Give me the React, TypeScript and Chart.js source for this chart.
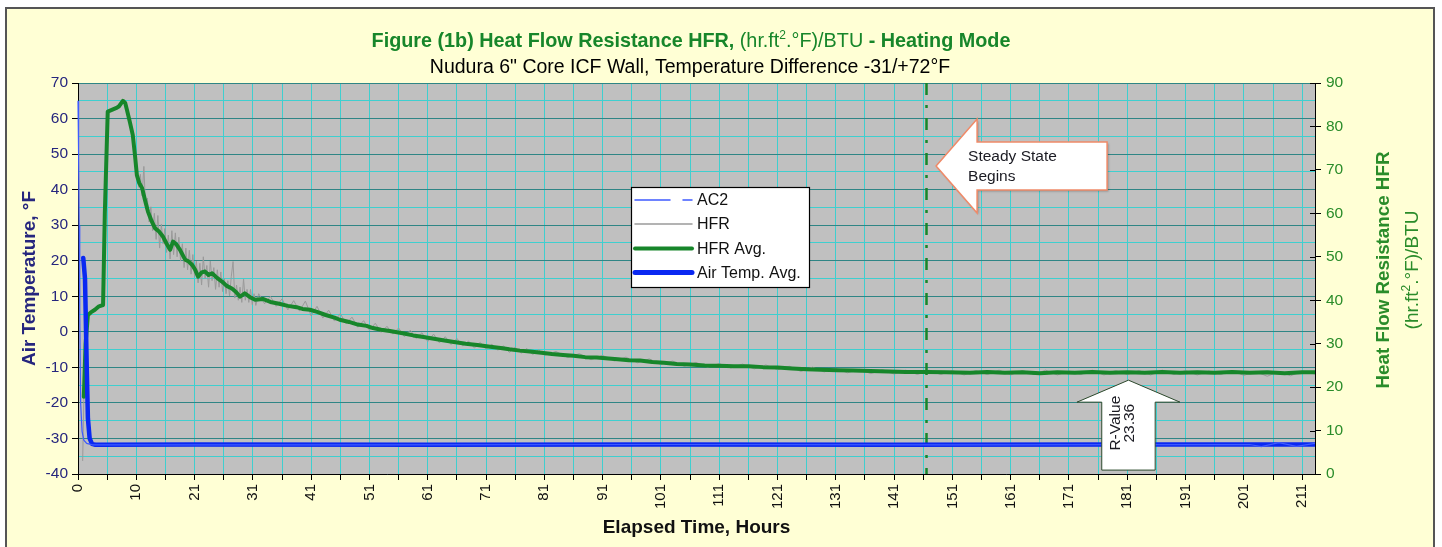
import React, { useEffect, useRef } from 'react';
import { Chart, registerables } from 'chart.js';

Chart.register(...registerables);

const FONT = "Arial, 'Liberation Sans', Helvetica, sans-serif";

// ---------- data ----------
const xTickLabels = ['0', '10', '21', '31', '41', '51', '61', '71', '81', '91', '101', '111', '121', '131', '141', '151', '161', '171', '181', '191', '201', '211'];

const ac2Hours = [0, 0.1, 0.2, 0.3, 0.45, 0.7, 1.0, 1.5, 2.5, 50, 100, 150, 201, 203, 206, 209, 212.2];
const ac2Temp = [65, 50, 30, 5, -20, -28, -30.5, -31.4, -31.8, -31.8, -31.7, -31.8, -31.7, -32.3, -31.2, -32.2, -31.4];

const airAvgHours = [0.9, 1.2, 1.5, 1.7, 2.0, 2.4, 3.0, 20, 60, 100, 140, 180, 212.2];
const airAvgTemp = [20.8, 15, -10, -24.4, -30, -31.5, -31.8, -31.7, -31.8, -31.7, -31.8, -31.7, -31.7];

const hfrHours = [
  0.8, 1.0, 1.3, 1.7, 2.2, 2.9, 3.6, 4.3, 4.6, 5.1,
  5.8, 6.5, 7.0, 7.7, 8.1, 8.4, 8.7, 9.0, 9.4, 9.8,
  10.1, 10.4, 10.7, 11.0, 11.3, 11.6, 11.9, 12.2, 12.5, 12.8,
  13.1, 13.4, 13.7, 14.0, 14.3, 14.6, 14.9, 15.2, 15.5, 15.8,
  16.1, 16.4, 16.7, 17.0, 17.3, 17.6, 17.9, 18.2, 18.5, 18.8,
  19.1, 19.4, 19.7, 20.0, 20.3, 20.6, 20.9, 21.2, 21.5, 21.8,
  22.1, 22.4, 22.7, 23.0, 23.3, 23.6, 23.9, 24.2, 24.5, 24.8,
  25.1, 25.4, 25.7, 26.0, 26.3, 26.6, 26.9, 27.2, 27.5, 27.8,
  28.1, 28.4, 28.7, 29.0, 29.3, 29.6, 29.9, 30.2, 30.5, 31,
  32, 33, 34, 35, 36, 37, 38, 39, 40, 41,
  42, 43, 44, 45, 46, 47, 48, 49, 50, 51,
  52, 53, 54, 55, 56, 57, 58, 59, 60, 61,
  62, 63, 64, 65, 66, 67, 68, 69, 70, 71,
  72, 73, 74, 75, 76, 77, 78, 79, 80, 82,
  84, 86, 88, 90, 92, 94, 96, 98, 100, 102,
  104, 106, 108, 110, 112, 114, 116, 118, 120, 122,
  124, 126, 128, 130, 132, 134, 136, 138, 140, 142,
  144, 146, 148, 150, 152, 154, 156, 158, 160, 162,
  164, 166, 168, 170, 172, 174, 176, 178, 180, 182,
  184, 186, 188, 190, 192, 194, 196, 198, 200, 202,
  204, 206, 208, 210, 212.2,
];
const hfrValues = [
  3, 17, 31, 36.2, 37.4, 37.5, 38.9, 38.6, 62, 83.0,
  84.0, 84.0, 84.9, 85.5, 85.7, 83.2, 82, 80.5, 79, 72,
  70.5, 66, 69, 64, 70.8, 61, 63.5, 58, 61.5, 56,
  60, 54, 59.5, 52, 57.5, 53, 56.5, 51, 55, 49.5,
  56, 50.5, 55.5, 50, 54.5, 49, 53, 47.5, 52, 47,
  51.5, 46, 50.5, 45.5, 49, 44, 48.5, 43.5, 50, 45,
  48, 43, 49, 44.5, 47.5, 42.5, 47, 43, 46.5, 42,
  45, 41.5, 44.5, 41, 45.5, 48.9, 40.5, 43.5, 40, 43,
  39.5, 44.9, 40, 42.5, 39.5, 42.5, 39, 41.5, 38.8, 41.5,
  39.2, 40.9, 38.6, 40.3, 37.8, 39.9, 37.5, 39.8, 36.4, 38.6,
  35.9, 37.7, 35.2, 36.9, 34.6, 36.1, 33.8, 35.3, 33.1, 34.7,
  32.6, 34.0, 32.2, 33.6, 31.6, 33.1, 31.2, 32.5, 30.5, 32.2,
  30.2, 31.6, 29.8, 31.2, 29.5, 30.6, 29.0, 30.3, 28.7, 29.9,
  28.5, 29.5, 28.0, 29.2, 27.8, 28.9, 27.5, 28.6, 27.3, 28.2,
  26.8, 27.7, 26.3, 27.3, 26.0, 26.9, 25.6, 26.5, 25.2, 26.0,
  24.8, 25.7, 24.6, 25.4, 24.4, 25.3, 24.2, 25.1, 24.0, 24.8,
  23.6, 24.6, 23.5, 24.3, 23.3, 24.1, 23.1, 24.0, 23.0, 23.9,
  22.9, 23.9, 22.9, 23.8, 22.8, 23.8, 22.9, 23.9, 22.8, 23.8,
  22.9, 23.9, 22.8, 23.7, 22.9, 23.9, 22.8, 23.8, 22.9, 23.8,
  22.8, 23.9, 22.9, 23.8, 22.8, 23.7, 22.9, 23.8, 22.7, 23.6,
  22.5, 23.6, 22.6, 23.7, 23.0,
];

const hfrAvgHours = [
  1.0, 1.3, 1.7, 2.2, 2.9, 3.6, 4.3, 4.6, 5.1, 5.8,
  6.5, 7.0, 7.7, 8.1, 8.4, 8.9, 9.4, 9.8, 10.1, 10.5,
  11.0, 11.5, 12.0, 12.6, 13.2, 13.9, 14.6, 15.2, 15.8, 16.3,
  16.9, 17.5, 18.4, 19.0, 19.6, 20.1, 20.6, 21.2, 21.8, 22.4,
  23.0, 23.8, 24.7, 25.5, 26.4, 27.1, 27.8, 28.6, 29.5, 30.4,
  31.7, 33.0, 34.5, 36.0, 37.5, 38.5, 39.8, 41.0, 42.5, 44.0,
  44.9, 46.5, 48.0, 49.5, 50.6, 52.0, 53.5, 55.7, 57.5, 59.0,
  60.8, 62.6, 64.5, 66.5, 68.5, 70.7, 72.5, 74.0, 75.8, 77.5,
  79.5, 81.3, 83.2, 85.0, 87.0, 89.0, 91.0, 92.6, 94.5, 96.4,
  98.5, 100.5, 102.7, 105.0, 107.5, 110.0, 112.5, 115.0, 117.5, 120.0,
  122.5, 125.0, 127.5, 130.2, 133.0, 136.0, 139.0, 142.0, 145.5, 149.0,
  153, 156, 159, 162, 165, 168, 171, 174, 177, 180,
  183, 186, 189, 192, 195, 198, 201, 204, 207, 210,
  212.2,
];
const hfrAvgValues = [
  17.8, 30.0, 36.6, 37.2, 37.8, 38.6, 38.9, 60.0, 83.4, 83.8,
  84.2, 84.6, 85.9, 85.4, 83.8, 81.0, 78.0, 73.0, 68.8, 67.0,
  65.8, 63.0, 60.4, 58.3, 56.6, 55.8, 54.6, 53.0, 51.6, 53.5,
  52.8, 51.6, 49.3, 48.9, 48.1, 47.0, 45.4, 46.4, 46.6, 45.8,
  46.2, 45.2, 44.3, 43.3, 42.7, 41.9, 40.8, 41.6, 40.7, 40.1,
  40.3, 39.6, 39.2, 38.7, 38.4, 38.0, 37.8, 37.3, 36.6, 36.0,
  35.5, 35.0, 34.4, 34.1, 33.6, 33.2, 32.9, 32.4, 31.9, 31.6,
  31.2, 30.8, 30.4, 30.0, 29.7, 29.3, 29.0, 28.7, 28.4, 28.2,
  27.9, 27.6, 27.4, 27.2, 26.9, 26.8, 26.6, 26.4, 26.2, 26.1,
  25.8, 25.6, 25.3, 25.2, 25.0, 24.9, 24.8, 24.8, 24.6, 24.5,
  24.3, 24.1, 24.0, 23.9, 23.8, 23.7, 23.6, 23.5, 23.5, 23.4,
  23.3, 23.5, 23.3, 23.4, 23.2, 23.4, 23.3, 23.5, 23.3, 23.4,
  23.3, 23.5, 23.3, 23.4, 23.3, 23.5, 23.3, 23.4, 23.2, 23.4,
  23.4,
];

const legendLabels = ['AC2', 'HFR', 'HFR Avg.', 'Air Temp. Avg.'];

// annotation anchors (data units: hours / right-axis HFR)
const steadyStateHour = 145.5;
const steadyArrowTip = { hour: 147.2, hfr: 70.9 };
const rValueArrowTip = { hour: 180.2, hfr: 21.6, baseHfr: 0.9 };
const rValueText = ['R-Value', '23.36'];

// ---------- styles ----------
const C = {
  page: '#ffffff',
  panel: '#FFFFD5',
  frame: '#555555',
  plot: '#C0C0C0',
  gridMajor: '#2F8585',
  gridMinor: '#3FCFCF',
  navy: '#26267E',
  green: '#17862A',
  greenText: '#2A8C2A',
  blue: '#0A28F2',
  ac2: '#3F5BFF',
  gray: '#9A9A9A',
};

const toPts = (xs: number[], ys: number[]) => xs.map((x, i) => ({ x, y: ys[i] }));

type Seg = { t: string; bold?: boolean; sup?: boolean };
function segFont(s: Seg, size: number) {
  const sz = s.sup ? Math.round(size * 0.62) : size;
  return `${s.bold ? 'bold ' : ''}${sz}px ${FONT}`;
}
function drawRich(ctx: CanvasRenderingContext2D, segs: Seg[], cx: number, cy: number, size: number, color: string) {
  ctx.textAlign = 'left';
  ctx.textBaseline = 'alphabetic';
  let w = 0;
  for (const s of segs) {
    ctx.font = segFont(s, size);
    w += ctx.measureText(s.t).width;
  }
  let x = cx - w / 2;
  const base = cy + size * 0.36;
  ctx.fillStyle = color;
  for (const s of segs) {
    ctx.font = segFont(s, size);
    ctx.fillText(s.t, x, s.sup ? base - size * 0.42 : base);
    x += ctx.measureText(s.t).width;
  }
}

const decorPlugin = {
  id: 'decor',
  beforeDraw(chart: any) {
    const { ctx, width, height, chartArea: a } = chart;
    ctx.save();
    ctx.fillStyle = C.page;
    ctx.fillRect(0, 0, width, height);
    ctx.fillStyle = C.panel;
    ctx.fillRect(6, 8, 1428, height);
    ctx.strokeStyle = C.frame;
    ctx.lineWidth = 2;
    ctx.strokeRect(6, 8, 1428, height + 20);
    ctx.fillStyle = C.plot;
    ctx.fillRect(a.left, a.top, a.right - a.left, a.bottom - a.top);
    ctx.restore();
  },
  beforeDatasetsDraw(chart: any) {
    const { ctx, chartArea: a, scales } = chart;
    const x = Math.round(scales.x.getPixelForValue(steadyStateHour)) + 0.5;
    ctx.save();
    ctx.strokeStyle = C.green;
    ctx.lineWidth = 2.5;
    ctx.setLineDash([12, 10, 3, 10]);
    ctx.beginPath();
    ctx.moveTo(x, a.top);
    ctx.lineTo(x, a.bottom);
    ctx.stroke();
    ctx.restore();
  },
  afterDatasetsDraw(chart: any) {
    const { ctx, chartArea: a, scales } = chart;
    const xs = scales.x;
    const y1 = scales.y1;
    ctx.save();

    // right axis ticks crossing into plot
    ctx.strokeStyle = '#000';
    ctx.lineWidth = 1;
    for (const t of y1.ticks) {
      const py = Math.round(y1.getPixelForValue(t.value)) + 0.5;
      ctx.beginPath();
      ctx.moveTo(a.right - 5, py);
      ctx.lineTo(a.right, py);
      ctx.stroke();
    }

    // Steady state arrow (pointing left)
    {
      const tx = xs.getPixelForValue(steadyArrowTip.hour);
      const ty = y1.getPixelForValue(steadyArrowTip.hfr);
      const headLen = 41, headHalf = 47, bodyHalf = 24, bodyLen = 130;
      ctx.beginPath();
      ctx.moveTo(tx, ty);
      ctx.lineTo(tx + headLen, ty - headHalf);
      ctx.lineTo(tx + headLen, ty - bodyHalf);
      ctx.lineTo(tx + headLen + bodyLen, ty - bodyHalf);
      ctx.lineTo(tx + headLen + bodyLen, ty + bodyHalf);
      ctx.lineTo(tx + headLen, ty + bodyHalf);
      ctx.lineTo(tx + headLen, ty + headHalf);
      ctx.closePath();
      ctx.save();
      ctx.shadowColor = 'rgba(0,0,0,0.25)';
      ctx.shadowOffsetX = 1.5;
      ctx.shadowOffsetY = 1.5;
      ctx.shadowBlur = 2;
      ctx.fillStyle = '#ffffff';
      ctx.fill();
      ctx.restore();
      ctx.strokeStyle = '#F08A68';
      ctx.lineWidth = 1.5;
      ctx.stroke();
      ctx.fillStyle = '#1a1a22';
      ctx.font = `15.5px ${FONT}`;
      ctx.textAlign = 'left';
      ctx.textBaseline = 'middle';
      ctx.fillText('Steady State', tx + 32, ty - 9);
      ctx.fillText('Begins', tx + 32, ty + 11);
    }

    // R-Value arrow (pointing up)
    {
      const tx = xs.getPixelForValue(rValueArrowTip.hour);
      const ty = y1.getPixelForValue(rValueArrowTip.hfr);
      const by = y1.getPixelForValue(rValueArrowTip.baseHfr);
      const headLen = 22, headHalf = 51.5, bodyHalf = 26.7;
      ctx.beginPath();
      ctx.moveTo(tx, ty);
      ctx.lineTo(tx + headHalf, ty + headLen);
      ctx.lineTo(tx + bodyHalf, ty + headLen);
      ctx.lineTo(tx + bodyHalf, by);
      ctx.lineTo(tx - bodyHalf, by);
      ctx.lineTo(tx - bodyHalf, ty + headLen);
      ctx.lineTo(tx - headHalf, ty + headLen);
      ctx.closePath();
      ctx.fillStyle = '#ffffff';
      ctx.fill();
      ctx.strokeStyle = '#2D4A2D';
      ctx.lineWidth = 1;
      ctx.stroke();
      ctx.save();
      ctx.translate(tx, ty + 43);
      ctx.rotate(-Math.PI / 2);
      ctx.fillStyle = '#1a1a22';
      ctx.font = `15.5px ${FONT}`;
      ctx.textAlign = 'center';
      ctx.textBaseline = 'middle';
      ctx.fillText(rValueText[0], 0, -13);
      ctx.fillText(rValueText[1], 0, 1);
      ctx.restore();
    }

    // Legend
    {
      const lx = 631, ly = 187, lw = 178, lh = 100;
      ctx.fillStyle = '#ffffff';
      ctx.fillRect(lx, ly, lw, lh);
      ctx.strokeStyle = '#000';
      ctx.lineWidth = 1.2;
      ctx.strokeRect(lx + 0.5, ly + 0.5, lw, lh);
      const rows = [200, 224, 248.5, 272.5];
      const x0 = 635, x1 = 692;
      ctx.lineCap = 'round';
      ctx.strokeStyle = C.ac2;
      ctx.lineWidth = 1.5;
      ctx.beginPath();
      ctx.moveTo(x0, rows[0]); ctx.lineTo(670, rows[0]);
      ctx.moveTo(683, rows[0]); ctx.lineTo(x1, rows[0]);
      ctx.stroke();
      ctx.strokeStyle = C.gray;
      ctx.lineWidth = 1.5;
      ctx.beginPath();
      ctx.moveTo(x0, rows[1]); ctx.lineTo(x1, rows[1]);
      ctx.stroke();
      ctx.strokeStyle = C.green;
      ctx.lineWidth = 4;
      ctx.beginPath();
      ctx.moveTo(x0, rows[2]); ctx.lineTo(x1, rows[2]);
      ctx.stroke();
      ctx.strokeStyle = C.blue;
      ctx.lineWidth = 5;
      ctx.beginPath();
      ctx.moveTo(x0, rows[3]); ctx.lineTo(x1, rows[3]);
      ctx.stroke();
      ctx.fillStyle = '#111';
      ctx.font = `16px ${FONT}`;
      ctx.textAlign = 'left';
      ctx.textBaseline = 'middle';
      legendLabels.forEach((l, i) => ctx.fillText(l, 697, rows[i] + 1));
    }
    ctx.restore();
  },
  afterDraw(chart: any) {
    const { ctx, chartArea: a } = chart;
    ctx.save();
    drawRich(ctx, [
      { t: 'Figure (1b) Heat Flow Resistance HFR,', bold: true },
      { t: ' (hr.ft' },
      { t: '2', sup: true },
      { t: '.°F)/BTU' },
      { t: ' - Heating Mode', bold: true },
    ], 691, 40, 19.8, C.green);
    drawRich(ctx, [{ t: 'Nudura 6" Core ICF Wall, Temperature Difference -31/+72°F' }], 690, 66, 19.5, '#000');
    drawRich(ctx, [{ t: 'Elapsed Time, Hours', bold: true }], (a.left + a.right) / 2, 526, 19, '#111');

    ctx.save();
    ctx.translate(28, (a.top + a.bottom) / 2);
    ctx.rotate(-Math.PI / 2);
    drawRich(ctx, [{ t: 'Air Temperature, °F', bold: true }], 0, 0, 19, C.navy);
    ctx.restore();

    ctx.save();
    ctx.translate(1382, 270);
    ctx.rotate(-Math.PI / 2);
    drawRich(ctx, [{ t: 'Heat Flow Resistance HFR', bold: true }], 0, 0, 18.8, C.greenText);
    ctx.restore();

    ctx.save();
    ctx.translate(1411, 270);
    ctx.rotate(-Math.PI / 2);
    drawRich(ctx, [{ t: '(hr.ft' }, { t: '2', sup: true }, { t: '.°F)/BTU' }], 0, 0, 19, C.greenText);
    ctx.restore();

    ctx.restore();
  },
};

export default function App() {
  const ref = useRef<HTMLCanvasElement>(null);
  useEffect(() => {
    const canvas = ref.current;
    if (!canvas) return;
    const chart = new Chart(canvas, {
      type: 'line',
      data: {
        datasets: [
          {
            label: legendLabels[0],
            data: toPts(ac2Hours, ac2Temp),
            yAxisID: 'y',
            borderColor: C.ac2,
            borderWidth: 1.2,
            pointRadius: 0,
            order: 0,
            clip: 4,
          },
          {
            label: legendLabels[1],
            data: toPts(hfrHours, hfrValues),
            yAxisID: 'y1',
            borderColor: C.gray,
            borderWidth: 1,
            pointRadius: 0,
            order: 3,
          },
          {
            label: legendLabels[2],
            data: toPts(hfrAvgHours, hfrAvgValues),
            yAxisID: 'y1',
            borderColor: C.green,
            borderWidth: 4,
            pointRadius: 0,
            borderJoinStyle: 'round',
            borderCapStyle: 'round',
            order: 2,
          },
          {
            label: legendLabels[3],
            data: toPts(airAvgHours, airAvgTemp),
            yAxisID: 'y',
            borderColor: C.blue,
            borderWidth: 4.5,
            pointRadius: 0,
            borderJoinStyle: 'round',
            borderCapStyle: 'round',
            order: 1,
          },
        ],
      },
      options: {
        responsive: false,
        animation: false,
        devicePixelRatio: 1,
        layout: { padding: { top: 83, left: 0, right: 0, bottom: 0 } },
        elements: { line: { tension: 0 }, point: { radius: 0 } },
        plugins: { legend: { display: false }, title: { display: false }, tooltip: { enabled: false } },
        scales: {
          x: {
            type: 'linear',
            min: 0,
            max: 212.2,
            ticks: {
              stepSize: 5,
              includeBounds: false,
              autoSkip: false,
              minRotation: 90,
              maxRotation: 90,
              padding: 4,
              color: '#111',
              font: { family: FONT, size: 15 },
              callback: (v: any) => {
                const n = Math.round(Number(v));
                return n % 10 === 0 ? (xTickLabels[n / 10] ?? '') : '';
              },
            },
            grid: { color: C.gridMinor, lineWidth: 1, tickColor: '#000', tickLength: 6 },
            border: { display: true, color: '#000', width: 1 },
            afterFit: (s: any) => { s.height = 73; },
          },
          y: {
            position: 'left',
            min: -40,
            max: 70,
            ticks: {
              stepSize: 5,
              autoSkip: false,
              padding: 4,
              color: C.navy,
              font: { family: FONT, size: 15.5 },
              callback: (v: any) => (Math.round(Number(v)) % 10 === 0 ? String(Math.round(Number(v))) : ''),
            },
            grid: {
              color: (c: any) => (c.tick && Math.round(c.tick.value) % 10 === 0 ? C.gridMajor : C.gridMinor),
              tickColor: (c: any) => (c.tick && Math.round(c.tick.value) % 10 === 0 ? '#000' : 'rgba(0,0,0,0)'),
              lineWidth: 1,
              tickLength: 6,
            },
            border: { display: true, color: '#000', width: 1 },
            afterFit: (s: any) => { s.width = 78; },
          },
          y1: {
            position: 'right',
            min: 0,
            max: 90,
            ticks: {
              stepSize: 10,
              autoSkip: false,
              padding: 5,
              color: C.greenText,
              font: { family: FONT, size: 15.5 },
            },
            grid: { drawOnChartArea: false, tickColor: '#000', tickLength: 6, lineWidth: 1 },
            border: { display: true, color: '#000', width: 1 },
            afterFit: (s: any) => { s.width = 127; },
          },
        },
      },
      plugins: [decorPlugin],
    } as any);
    return () => chart.destroy();
  }, []);

  return (
    <div style={{ position: 'fixed', left: 0, top: 0, width: 1442, height: 547, background: '#fff' }}>
      <canvas ref={ref} width={1442} height={547} style={{ display: 'block', width: 1442, height: 547 }} />
    </div>
  );
}
